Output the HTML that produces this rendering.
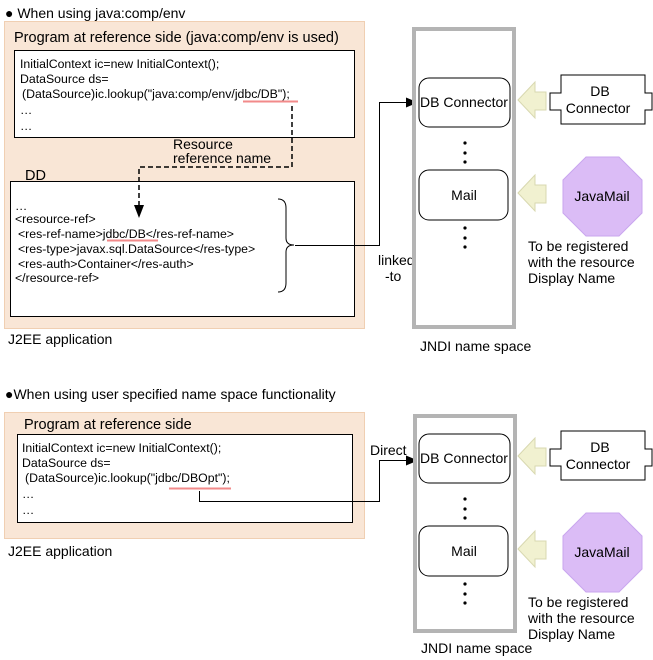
<!DOCTYPE html>
<html><head><style>
body{margin:0;background:#fff;}
svg{display:block;font-family:"Liberation Sans",sans-serif;}
</style></head><body>
<svg width="653" height="660" viewBox="0 0 653 660" xmlns="http://www.w3.org/2000/svg">
<defs>
<g id="right">
  <rect x="419" y="78" width="91" height="49" rx="10" fill="#fff" stroke="#000"/>
  <text x="464" y="107" font-size="14" text-anchor="middle">DB Connector</text>
  <circle cx="465" cy="143" r="1.6"/><circle cx="465" cy="153" r="1.6"/><circle cx="465" cy="162" r="1.6"/>
  <rect x="419" y="170" width="89" height="50" rx="10" fill="#fff" stroke="#000"/>
  <text x="464" y="200" font-size="14" text-anchor="middle">Mail</text>
  <circle cx="465" cy="228" r="1.6"/><circle cx="465" cy="238" r="1.6"/><circle cx="465" cy="247" r="1.6"/>
  <path d="M518,100 L535,82 L535,92 L546,92 L546,110 L535,110 L535,118 Z" fill="#f1f1d0" stroke="#d8d8b0"/>
  <path d="M518,193 L535,175 L535,185 L546,185 L546,203 L535,203 L535,211 Z" fill="#f1f1d0" stroke="#d8d8b0"/>
  <path d="M561,75 L645,75 L645,93 L652,93 L652,110 L645,110 L645,124 L561,124 L561,110 L550,110 L550,93 L561,93 Z" fill="#fff" stroke="#000"/>
  <text x="600" y="96" font-size="14" text-anchor="middle">DB</text>
  <text x="598" y="113" font-size="14" text-anchor="middle">Connector</text>
  <polygon points="586,157 619,157 642,180 642,213 619,236 586,236 563,213 563,180" fill="#dbbcf6" stroke="#c9a6ee"/>
  <text x="602" y="201" font-size="14" text-anchor="middle">JavaMail</text>
  <text x="528" y="251" font-size="14">To be registered</text>
  <text x="528" y="267" font-size="14">with the resource</text>
  <text x="528" y="283" font-size="14">Display Name</text>
</g>
</defs>

<!-- TOP -->
<text x="5" y="18" font-size="14">● When using java:comp/env</text>
<rect x="4.5" y="21.5" width="360" height="307" fill="#f9e6d6" stroke="#f0cfb2"/>
<text x="14" y="42" font-size="14.5">Program at reference side (java:comp/env is used)</text>
<rect x="14.5" y="50.5" width="340" height="87" fill="#fff" stroke="#000"/>
<g font-size="12.3">
<text x="20" y="68">InitialContext ic=new InitialContext();</text>
<text x="20" y="83">DataSource ds=</text>
<text x="22" y="98">(DataSource)ic.lookup("java:comp/env/jdbc/DB");</text>
<text x="20" y="114">…</text>
<text x="20" y="130">…</text>
</g>
<line x1="243" y1="101.5" x2="298" y2="101.5" stroke="#f28a8a" stroke-width="2"/>
<text x="173" y="149" font-size="14">Resource</text>
<text x="173" y="163" font-size="14">reference name</text>
<text x="25" y="180" font-size="14.5">DD</text>
<rect x="10.5" y="181.5" width="344" height="135" fill="#fff" stroke="#000"/>
<path d="M292,106 V167 H139 V207" fill="none" stroke="#000" stroke-width="1.5" stroke-dasharray="5,3"/>
<path d="M134,205 L144,205 L139,218 Z" fill="#000"/>
<g font-size="12.3">
<text x="15" y="210">…</text>
<text x="15" y="223">&lt;resource-ref&gt;</text>
<text x="18" y="238">&lt;res-ref-name&gt;jdbc/DB&lt;/res-ref-name&gt;</text>
<text x="18" y="253">&lt;res-type&gt;javax.sql.DataSource&lt;/res-type&gt;</text>
<text x="18" y="268">&lt;res-auth&gt;Container&lt;/res-auth&gt;</text>
<text x="15" y="282">&lt;/resource-ref&gt;</text>
</g>
<line x1="107" y1="240.5" x2="158" y2="240.5" stroke="#f28a8a" stroke-width="2"/>
<path d="M278,199 Q286,199 286,208 V238 Q286,245 294,245 Q286,245 286,252 V283 Q286,292 278,292" fill="none" stroke="#000"/>
<path d="M295,245.5 H379.5 V102.5 H408" fill="none" stroke="#000"/>
<path d="M406,97.5 L418,102.5 L406,107.5 Z" fill="#000"/>
<text x="378" y="265" font-size="14">linked</text>
<text x="385" y="281" font-size="14">-to</text>
<text x="8" y="344" font-size="14">J2EE application</text>
<rect x="414" y="29" width="100" height="298" fill="#fff" stroke="#b4b4b4" stroke-width="4"/>
<text x="420" y="351" font-size="14">JNDI name space</text>
<use href="#right"/>

<!-- BOTTOM -->
<text x="5" y="399" font-size="14">●When using user specified name space functionality</text>
<rect x="4.5" y="412.5" width="360" height="126" fill="#f9e6d6" stroke="#f0cfb2"/>
<text x="24" y="429" font-size="14.5">Program at reference side</text>
<rect x="17.5" y="434.5" width="335" height="88" fill="#fff" stroke="#000"/>
<g font-size="12.3">
<text x="22" y="452">InitialContext ic=new InitialContext();</text>
<text x="22" y="467">DataSource ds=</text>
<text x="25" y="482">(DataSource)ic.lookup("jdbc/DBOpt");</text>
<text x="22" y="498">…</text>
<text x="22" y="514">…</text>
</g>
<line x1="169" y1="488.5" x2="231" y2="488.5" stroke="#f28a8a" stroke-width="2"/>
<path d="M199.5,491 V501.5 H379.5 V460.5 H408" fill="none" stroke="#000"/>
<path d="M406,455.5 L418,460.5 L406,465.5 Z" fill="#000"/>
<text x="370" y="455" font-size="14">Direct</text>
<text x="8" y="556" font-size="14">J2EE application</text>
<rect x="415" y="416" width="100" height="215" fill="#fff" stroke="#b4b4b4" stroke-width="4"/>
<text x="421" y="653" font-size="14">JNDI name space</text>
<use href="#right" transform="translate(0,356)"/>
</svg>
</body></html>
